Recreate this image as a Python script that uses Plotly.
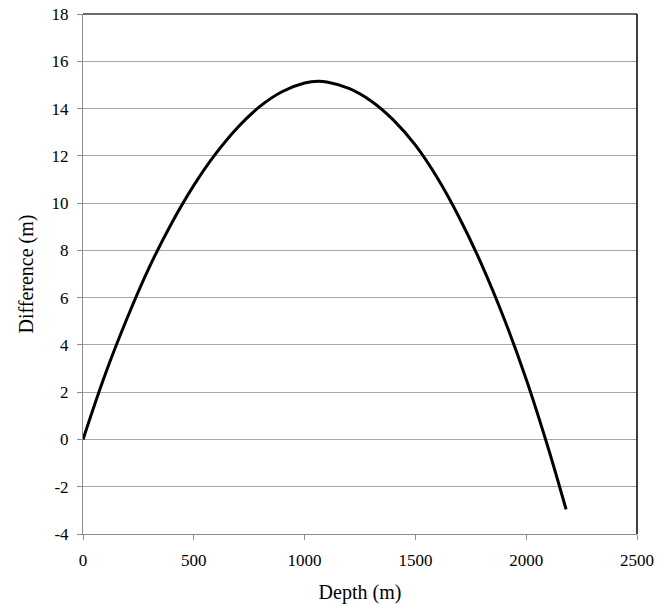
import plotly.graph_objects as go

depth = [0, 100, 200, 300, 400, 500, 600, 700, 800, 900, 1000, 1062, 1100, 1200, 1300, 1400, 1500, 1600, 1700, 1800, 1900, 2000, 2100, 2180]
difference = [0, 2.75, 5.15, 7.3, 9.15, 10.75, 12.1, 13.22, 14.1, 14.72, 15.08, 15.15, 15.12, 14.85, 14.32, 13.52, 12.45, 11.05, 9.35, 7.38, 5.12, 2.55, -0.38, -2.96]

x_ticks = [0, 500, 1000, 1500, 2000, 2500]
y_ticks = [-4, -2, 0, 2, 4, 6, 8, 10, 12, 14, 16, 18]

FONT = "Liberation Serif, Times New Roman, serif"

fig = go.Figure()
fig.add_trace(go.Scatter(
    x=depth, y=difference, mode="lines",
    line=dict(color="black", width=3, shape="spline", smoothing=1.0),
    showlegend=False, hoverinfo="skip",
))

fig.update_layout(
    width=672, height=604,
    margin=dict(l=83, r=35, t=14, b=70, autoexpand=False),
    paper_bgcolor="white", plot_bgcolor="white",
    font=dict(family=FONT, size=17, color="black"),
    xaxis=dict(
        range=[0, 2500], tickvals=x_ticks, ticktext=[str(v) for v in x_ticks],
        showgrid=False, zeroline=False, automargin=False,
        showline=True, linecolor="#8c8c8c", linewidth=1,
        ticks="outside", ticklen=5, tickcolor="#8c8c8c",
        ticklabelstandoff=6,
        title=dict(text="Depth (m)", standoff=18),
    ),
    yaxis=dict(
        range=[-4, 18], tickvals=y_ticks, ticktext=[str(v) for v in y_ticks],
        showgrid=True, gridcolor="#a6a6a6", gridwidth=1,
        zeroline=False, automargin=False,
        showline=True, linecolor="#8c8c8c", linewidth=1,
        ticks="outside", ticklen=5, tickcolor="#8c8c8c",
        ticklabelstandoff=5,
        title=dict(text="Difference (m)", standoff=12),
    ),
    shapes=[
        dict(type="line", xref="paper", yref="paper", x0=0, x1=1, y0=1, y1=1,
             line=dict(color="#3a3a3a", width=1.5)),
        dict(type="line", xref="paper", yref="paper", x0=1, x1=1, y0=0, y1=1,
             line=dict(color="black", width=1.5)),
    ],
)

fig.write_html("out.html")
